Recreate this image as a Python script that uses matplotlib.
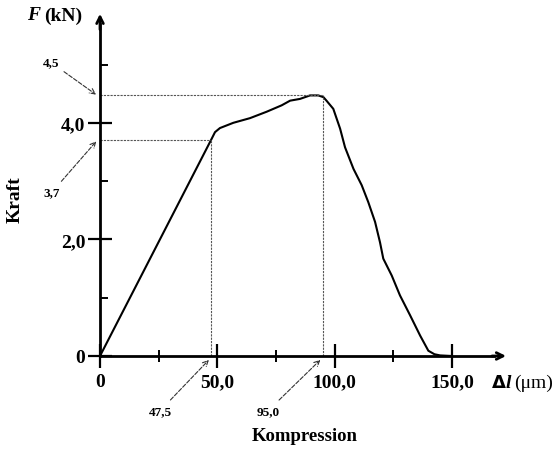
import matplotlib.pyplot as plt
import numpy as np

plt.rcParams['font.family'] = ['Liberation Serif', 'DejaVu Serif']
plt.rcParams['font.weight'] = 'bold'

# data
compression = [0, 47.5, 49.0, 51.1, 56.8, 63.9, 71.0, 77.4, 81.0, 85.2, 89.5, 93.0,
               95.2, 96.5, 99.4, 102.3, 104.4, 108.0, 111.5, 114.3, 117.2,
               119.3, 120.7, 124.3, 127.8, 132.1, 136.4, 139.9, 142.5, 144.9, 149.8]
force = [0, 3.72, 3.84, 3.91, 4.0, 4.08, 4.19, 4.30, 4.38, 4.41, 4.47, 4.47,
         4.44, 4.38, 4.24, 3.90, 3.58, 3.21, 2.93, 2.64, 2.30,
         1.95, 1.67, 1.38, 1.04, 0.70, 0.35, 0.09, 0.03, 0.01, 0]

x_major = [0, 50, 100, 150]
x_major_labels = ['0', '50,0', '100,0', '150,0']
x_minor = [25, 75, 125]
y_major = [0, 2, 4]
y_major_labels = ['0', '2,0', '4,0']
y_minor = [1, 3, 5]

yield_pt = (47.5, 3.7)
peak_pt = (95.0, 4.47)

fig = plt.figure(figsize=(5.59, 4.52), dpi=100)
ax = fig.add_axes([0, 0, 1, 1])
ax.set_xlim(-42.61, 195.57)
ax.set_ylim(-1.63, 6.124)

# axes through the origin
for s in ['top', 'right']:
    ax.spines[s].set_visible(False)
ax.spines['left'].set_position(('data', 0))
ax.spines['bottom'].set_position(('data', 0))
ax.spines['left'].set_bounds(0, 5.7)
ax.spines['bottom'].set_bounds(0, 168)
ax.spines['left'].set_linewidth(2)
ax.spines['bottom'].set_linewidth(2)
ax.annotate('', xy=(0, 5.87), xytext=(0, 5.6),
            arrowprops=dict(arrowstyle='->', lw=2, color='black',
                            mutation_scale=12, shrinkA=0, shrinkB=0))
ax.annotate('', xy=(173, 0), xytext=(167, 0),
            arrowprops=dict(arrowstyle='->', lw=2, color='black',
                            mutation_scale=12, shrinkA=0, shrinkB=0))

ax.set_xticks(x_major)
ax.set_xticklabels(x_major_labels, fontsize=14, fontweight='bold')
ax.set_xticks(x_minor, minor=True)
ax.set_yticks(y_major)
ax.set_yticklabels(y_major_labels, fontsize=14, fontweight='bold')
ax.set_yticks(y_minor, minor=True)
ax.tick_params(axis='x', which='major', direction='inout', length=17, width=1.6, pad=4)
ax.tick_params(axis='x', which='minor', direction='inout', length=9, width=1.4)
ax.tick_params(axis='y', which='major', direction='inout', length=17, width=1.6, pad=2)
ax.tick_params(axis='y', which='minor', direction='in', length=6, width=1.4)

# curve
ax.plot(compression, force, color='black', lw=1.5, solid_joinstyle='round')

# guide lines
dash = dict(color='#555555', lw=0.8, ls=(0, (2, 1)))
ax.plot([0, yield_pt[0]], [yield_pt[1], yield_pt[1]], **dash)
ax.plot([yield_pt[0], yield_pt[0]], [0, yield_pt[1]], **dash)
ax.plot([0, peak_pt[0]], [peak_pt[1], peak_pt[1]], **dash)
ax.plot([peak_pt[0], peak_pt[0]], [0, peak_pt[1]], **dash)

arrow = dict(arrowstyle='->', lw=0.8, ls='--', color='#333333', shrinkA=2, shrinkB=1)
ax.annotate('4,5', xy=(-1.2, peak_pt[1]), xytext=(-21, 5.04), fontsize=9.5,
            ha='center', va='center', arrowprops=arrow)
ax.annotate('3,7', xy=(-1.2, yield_pt[1]), xytext=(-20.5, 2.81), fontsize=9.5,
            ha='center', va='center', arrowprops=arrow)
ax.annotate('47,5', xy=(46.8, -0.05), xytext=(25.6, -0.94), fontsize=9.5,
            ha='center', va='center', arrowprops=arrow)
ax.annotate('95,0', xy=(94.3, -0.05), xytext=(71.6, -0.94), fontsize=9.5,
            ha='center', va='center', arrowprops=arrow)

# axis titles
ax.text(-25.5, 5.85, 'F', fontsize=14, fontstyle='italic', fontweight='bold',
        ha='right', va='center')
ax.text(-24, 5.85, '(kN)', fontsize=14, fontweight='bold', ha='left', va='center')
ax.text(-36.2, 2.69, 'Kraft', fontsize=14, fontweight='bold', rotation=90,
        ha='center', va='center')
ax.text(87.3, -1.37, 'Kompression', fontsize=13.5, fontweight='bold',
        ha='center', va='center')
ax.text(167, -0.45, 'Δ', fontsize=13, fontweight='bold', fontstyle='normal',
        family='DejaVu Sans', ha='left', va='center')
ax.text(172.8, -0.45, 'l', fontsize=14, fontweight='bold', fontstyle='italic',
        ha='left', va='center')
ax.text(176.5, -0.45, '(μm)', fontsize=14, fontweight='normal', ha='left', va='center')

fig.savefig('out.png', dpi=100)
